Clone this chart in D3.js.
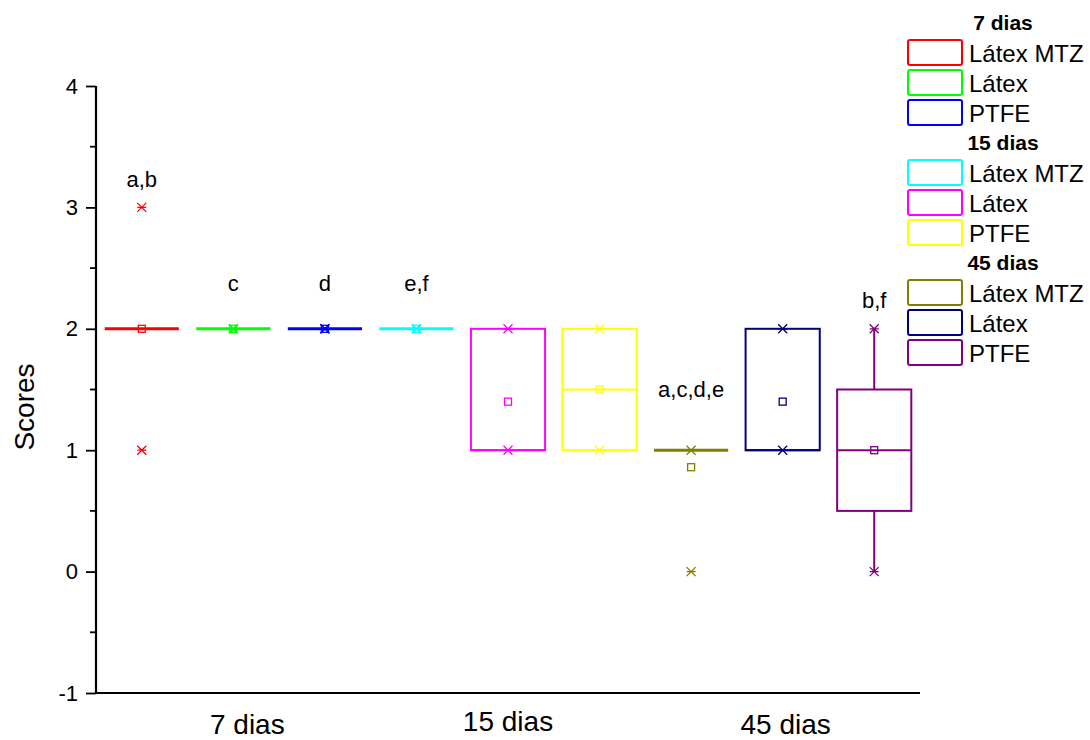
<!DOCTYPE html>
<html>
<head>
<meta charset="utf-8">
<script src="https://cdn.jsdelivr.net/npm/d3@7"></script>
<style>
  html, body { margin: 0; padding: 0; background: #fff; }
  svg { display: block; font-family: "Liberation Sans", Arial, sans-serif; }
</style>
</head>
<body>
<svg id="chart" width="1090" height="740"></svg>
<script>
// ---- data ----
const groups = ["7 dias", "15 dias", "45 dias"];
const series = ["Látex MTZ", "Látex", "PTFE"];
const boxColors = ["#FF0000", "#00FF00", "#0000FF",
                   "#00FFFF", "#FF00FF", "#FFFF00",
                   "#808000", "#000080", "#800080"];
const q1      = [2, 2, 2, 2, 1,   1,   1,    1,   0.5];
const median  = [2, 2, 2, 2, 1,   1.5, 1,    1,   1];
const q3      = [2, 2, 2, 2, 2,   2,   1,    2,   1.5];
const whiskLo = [2, 2, 2, 2, 1,   1,   1,    1,   0];
const whiskHi = [2, 2, 2, 2, 2,   2,   1,    2,   2];
const meanVal = [2, 2, 2, 2, 1.4, 1.5, 0.86, 1.4, 1];
const pMin    = [1, 2, 2, 2, 1,   1,   0,    1,   0];
const pMax    = [3, 2, 2, 2, 2,   2,   1,    2,   2];
const yTicks  = [-1, 0, 1, 2, 3, 4];
const annoText  = ["a,b", "c", "d", "e,f", "a,c,d,e", "b,f"];
const annoBox   = [0, 1, 2, 3, 6, 8];
const annoValue = [3.17, 2.31, 2.31, 2.31, 1.44, 2.17];

(function () {
const boxes = [];
groups.forEach((g, gi) => series.forEach((s, si) => {
  const i = gi * series.length + si;
  boxes.push({ id: g + "|" + s, group: g, series: s, color: boxColors[i],
    q1: q1[i], med: median[i], q3: q3[i], lo: whiskLo[i], hi: whiskHi[i],
    mean: meanVal[i], pmin: pMin[i], pmax: pMax[i] });
}));

const svg = d3.select("#chart");
const pLeft = 96, pRight = 920, pTop = 86, pBottom = 693;

const x = d3.scaleBand().domain(boxes.map(d => d.id)).range([pLeft, pRight]).padding(0);
const y = d3.scaleLinear().domain([-1, 4]).range([pBottom, pTop]);
const bw = x.bandwidth() * 0.81;
const cx = d => x(d.id) + x.bandwidth() / 2;

// axes
const axisG = svg.append("g");
axisG.append("line").attr("x1", pLeft).attr("x2", pLeft).attr("y1", pTop).attr("y2", pBottom + 1)
  .attr("stroke", "#000").attr("stroke-width", 2.2);
axisG.append("line").attr("x1", pLeft - 1).attr("x2", pRight).attr("y1", pBottom).attr("y2", pBottom)
  .attr("stroke", "#000").attr("stroke-width", 2.2);

const yAxis = d3.axisLeft(y).tickValues(yTicks).tickSize(10).tickPadding(8).tickFormat(d => String(d));
const yg = svg.append("g").attr("transform", `translate(${pLeft},0)`).call(yAxis);
yg.select(".domain").remove();
yg.selectAll(".tick line").attr("stroke-width", 1.8);
yg.selectAll(".tick text").attr("font-size", 22).attr("font-family", "Liberation Sans, Arial, sans-serif").attr("fill", "#000");

const minorTicks = yTicks.slice(0, -1).map(v => v + 0.5);
svg.append("g").selectAll("line").data(minorTicks).join("line")
  .attr("x1", pLeft - 6).attr("x2", pLeft).attr("y1", d => y(d)).attr("y2", d => y(d))
  .attr("stroke", "#000").attr("stroke-width", 1.8);

svg.append("text").attr("transform", `translate(34,407) rotate(-90)`)
  .attr("text-anchor", "middle").attr("font-size", 28).text("Scores");

// group labels
const groupDx = [14, 0, 3], groupY = [734, 731, 734];
groups.forEach((g, gi) => {
  const members = boxes.filter(b => b.group === g);
  const c = (cx(members[0]) + cx(members[members.length - 1])) / 2;
  svg.append("text").attr("x", c + groupDx[gi]).attr("y", groupY[gi])
    .attr("text-anchor", "middle").attr("font-size", 28).text(g);
});

// boxes
const bg = svg.append("g");
boxes.forEach(d => {
  const g = bg.append("g").attr("stroke", d.color).attr("fill", "none");
  const c = cx(d), x0 = c - bw / 2, x1 = c + bw / 2;
  const collapsed = d.q1 === d.q3;
  const hw = collapsed ? 3 : 2;
  if (d.hi > d.q3) g.append("line").attr("x1", c).attr("x2", c).attr("y1", y(d.q3)).attr("y2", y(d.hi)).attr("stroke-width", 2);
  if (d.lo < d.q1) g.append("line").attr("x1", c).attr("x2", c).attr("y1", y(d.q1)).attr("y2", y(d.lo)).attr("stroke-width", 2);
  if (!collapsed) {
    g.append("rect").attr("x", x0).attr("y", y(d.q3)).attr("width", bw).attr("height", y(d.q1) - y(d.q3)).attr("stroke-width", 2);
  }
  g.append("line").attr("x1", x0).attr("x2", x1).attr("y1", y(d.med)).attr("y2", y(d.med)).attr("stroke-width", hw);
  g.append("rect").attr("x", c - 3.5).attr("y", y(d.mean) - 3.5).attr("width", 7).attr("height", 7).attr("stroke-width", 1.3).attr("fill", "none");
  [d.pmin, d.pmax].forEach(v => {
    const yy = y(v), s = 4.5;
    g.append("path").attr("d", `M${c - s},${yy - s}L${c + s},${yy + s}M${c - s},${yy + s}L${c + s},${yy - s}M${c - s},${yy}L${c + s},${yy}`)
      .attr("stroke-width", 1.3);
  });
});

// annotations
svg.append("g").selectAll("text").data(annoText).join("text")
  .attr("x", (t, i) => cx(boxes[annoBox[i]]))
  .attr("y", (t, i) => y(annoValue[i]))
  .attr("text-anchor", "middle").attr("font-size", 22).text(t => t);

// legend
const lg = svg.append("g");
let row = 0;
const rowY = r => 22.5 + 30 * r;
groups.forEach((g, gi) => {
  lg.append("text").attr("x", 1003).attr("y", rowY(row) + 7).attr("text-anchor", "middle")
    .attr("font-size", 21).attr("font-weight", "bold").text(g);
  row++;
  series.forEach((s, si) => {
    const b = boxes[gi * series.length + si];
    const cy = rowY(row);
    lg.append("rect").attr("x", 908).attr("y", cy - 12.5).attr("width", 54).attr("height", 25)
      .attr("rx", 2).attr("fill", "none").attr("stroke", b.color).attr("stroke-width", 2);
    lg.append("text").attr("x", 969).attr("y", cy + 9).attr("font-size", 24).text(s);
    row++;
  });
});
})();
</script>
</body>
</html>
